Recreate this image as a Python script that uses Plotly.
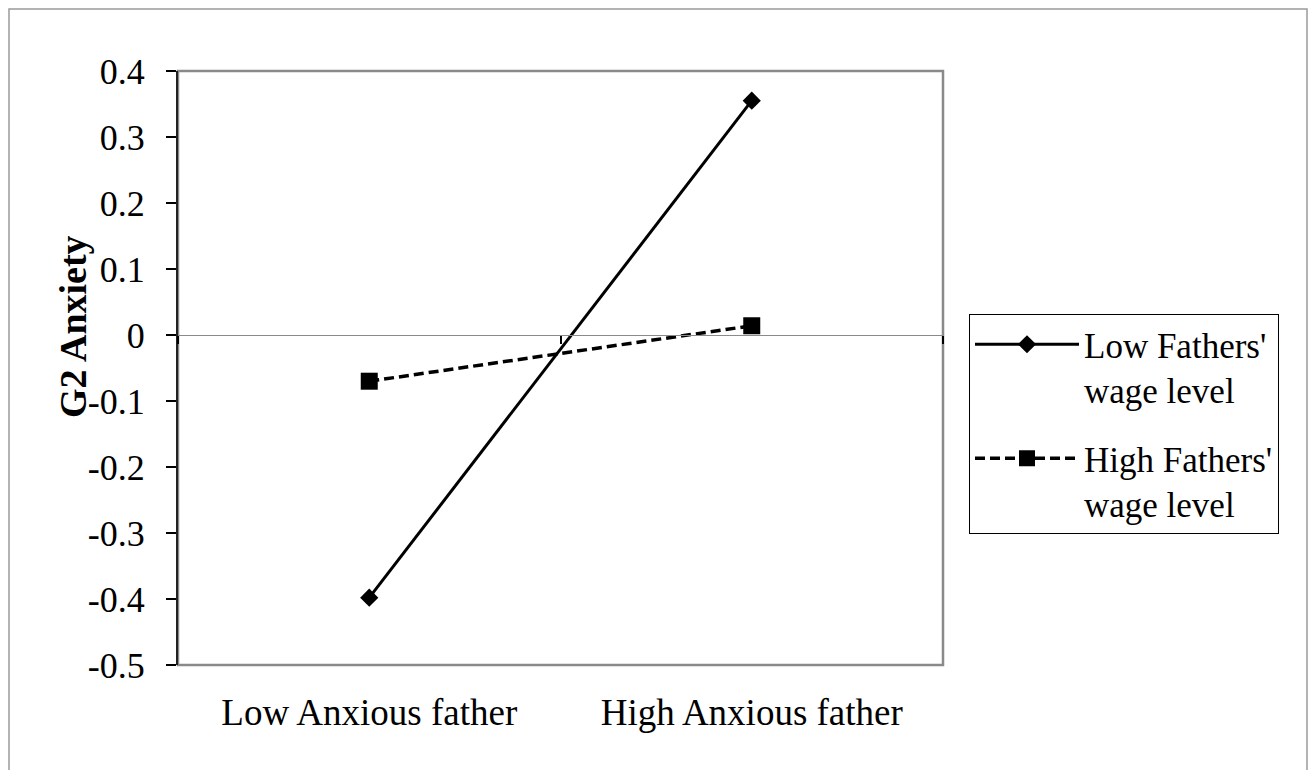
import plotly.graph_objects as go

# data
categories = ["Low Anxious father", "High Anxious father"]
low_wage = [-0.398, 0.355]
high_wage = [-0.07, 0.014]
series_names = ["Low Fathers'<br>wage level", "High Fathers'<br>wage level"]
y_ticks = [0.4, 0.3, 0.2, 0.1, 0, -0.1, -0.2, -0.3, -0.4, -0.5]
y_min, y_max = -0.5, 0.4

SERIF = "Times New Roman, Liberation Serif, serif"
FRAME = "#8a8a8a"
# page body has an 8px margin, so the figure itself starts at (8, 8)
W, H = 1300, 762
M_L, M_T = 170, 63
PW, PH = 765, 594
M_R, M_B = W - M_L - PW, H - M_T - PH

fig = go.Figure()
fig.add_trace(go.Scatter(
    x=categories, y=low_wage, name=series_names[0], legendgroup="a",
    mode="lines+markers",
    line=dict(color="black", width=3),
    marker=dict(symbol="diamond", size=14, color="black"),
))
fig.add_trace(go.Scatter(
    x=categories, y=high_wage, name=series_names[1], legendgroup="b",
    mode="lines+markers",
    line=dict(color="black", width=3.5, dash="10px,5px"),
    marker=dict(symbol="square", size=17, color="black"),
))

# category axis crossing at zero (Excel style), ticks on boundaries
zero_pos = (0 - y_min) / (y_max - y_min)
fig.add_trace(go.Scatter(x=categories, y=[None, None], xaxis="x2",
                         showlegend=False, hoverinfo="skip"))

fig.update_layout(
    width=W, height=H,
    margin=dict(l=M_L, r=M_R, t=M_T, b=M_B),
    paper_bgcolor="white", plot_bgcolor="white",
    font=dict(family=SERIF, color="black", size=36),
    xaxis=dict(
        type="category", range=[-0.5, 1.5],
        showgrid=False, zeroline=False, showline=False, ticks="",
        tickfont=dict(size=37), ticklabelstandoff=22,
    ),
    xaxis2=dict(
        type="category", range=[-0.5, 1.5], overlaying="x",
        anchor="free", position=zero_pos, side="bottom",
        showline=True, linecolor=FRAME, linewidth=1.2,
        ticks="outside", tickson="boundaries", ticklen=8,
        tickcolor="black", tickwidth=2,
        showticklabels=False, showgrid=False, zeroline=False,
    ),
    yaxis=dict(
        range=[y_min, y_max], tickvals=y_ticks,
        ticktext=[f"{v:g}" for v in y_ticks],
        showgrid=False, zeroline=False,
        showline=True, linecolor="#222", linewidth=2,
        ticks="outside", ticklen=10, tickcolor="black", tickwidth=1.5,
        tickfont=dict(size=36), ticklabelstandoff=14,
    ),
    annotations=[
        dict(text="<b>G2 Anxiety</b>", textangle=-90, showarrow=False,
             xref="paper", yref="paper",
             x=(65 - M_L) / PW, y=1 - (318 - M_T) / PH,
             xanchor="center", yanchor="middle",
             font=dict(size=38)),
    ],
    legend=dict(
        x=(961 - M_L) / PW, y=1 - (306 - M_T) / PH,
        xanchor="left", yanchor="top",
        bordercolor="black", borderwidth=1, bgcolor="white",
        font=dict(size=35), valign="top", itemwidth=104,
        tracegroupgap=20,
    ),
    shapes=[
        # plot frame
        dict(type="rect", xref="paper", yref="paper", x0=0, x1=1, y0=0, y1=1,
             line=dict(color=FRAME, width=2.5), layer="below"),
        # outer chart border (runs off the bottom edge)
        dict(type="rect", xref="paper", yref="paper",
             x0=-(M_L - 1) / PW, x1=(W - 1 - M_L) / PW,
             y0=-(M_B + 40) / PH, y1=1 + (M_T - 1) / PH,
             line=dict(color="#9a9a9a", width=1.5)),
    ],
)

fig.write_html("out.html")
